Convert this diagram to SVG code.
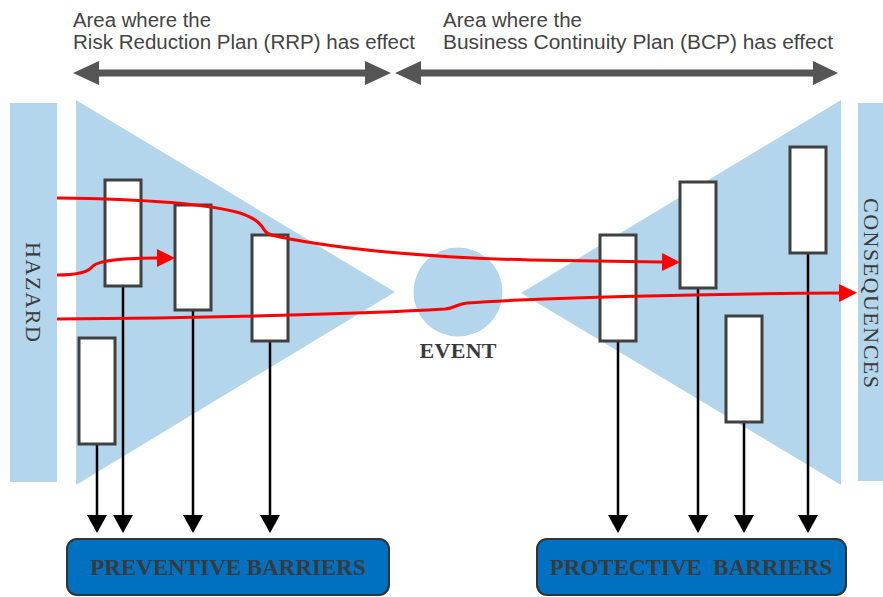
<svg xmlns="http://www.w3.org/2000/svg" width="883" height="597" viewBox="0 0 883 597">
  <style>
    .zone { fill: #B4D6EC; }
    .barrier { fill: #FFFFFF; stroke: #404040; stroke-width: 3; }
    .drop { stroke: #000000; stroke-width: 2.5; fill: none; marker-end: url(#blackHead); }
    .path { stroke: #FF0000; stroke-width: 3; fill: none; }
    .range { fill: #555555; }
    .head { font-family: "Liberation Sans", Arial, sans-serif; font-size: 19.5px; fill: #444444; }
    .side { font-family: "Liberation Serif", "Times New Roman", serif; font-size: 22px; fill: #3a3a3a; }
    .bold { font-family: "Liberation Serif", "Times New Roman", serif; font-weight: bold; fill: #3a3a3a; }
    .group { fill: #0070C0; stroke: #333333; stroke-width: 2; }
  </style>
  <defs>
    <marker id="blackHead" markerUnits="userSpaceOnUse" markerWidth="18" markerHeight="20" refX="0" refY="10" orient="auto" viewBox="0 0 18 20">
      <path d="M0,0 L18,10 L0,20 Z" fill="#000000"/>
    </marker>
    <marker id="redHead" markerUnits="userSpaceOnUse" markerWidth="18" markerHeight="18" refX="0" refY="9" orient="auto" viewBox="0 0 18 18">
      <path d="M0,0 L18,9 L0,18 Z" fill="#FF0000"/>
    </marker>
  </defs>

  <!-- range headings -->
  <g id="rrp-range">
    <text class="head" x="73" y="27" textLength="138" lengthAdjust="spacingAndGlyphs">Area where the</text>
    <text class="head" x="73" y="49" textLength="342" lengthAdjust="spacingAndGlyphs">Risk Reduction Plan (RRP) has effect</text>
    <polygon class="range" points="73,73 99,61 99,69.5 365,69.5 365,61 391,73 365,85 365,76.5 99,76.5 99,85"/>
  </g>
  <g id="bcp-range">
    <text class="head" x="443" y="27" textLength="139" lengthAdjust="spacingAndGlyphs">Area where the</text>
    <text class="head" x="443" y="49" textLength="390" lengthAdjust="spacingAndGlyphs">Business Continuity Plan (BCP) has effect</text>
    <polygon class="range" points="395,73 421,61 421,69.5 813,69.5 813,61 838,73 813,85 813,76.5 421,76.5 421,85"/>
  </g>

  <!-- side bars and fans -->
  <g id="hazard">
    <rect class="zone" x="10" y="103" width="47" height="379"/>
    <text class="side" transform="translate(26,242) rotate(90)" x="0" y="0" textLength="100">HAZARD</text>
  </g>
  <g id="consequences">
    <rect class="zone" x="858" y="103" width="30" height="378"/>
    <text class="side" transform="translate(864,198) rotate(90)" x="0" y="0" font-size="20" textLength="190">CONSEQUENCES</text>
  </g>
  <g id="rrp-fan">
    <polygon class="zone" points="76,100 76,485 395,292"/>
  </g>
  <g id="bcp-fan">
    <polygon class="zone" points="841,100 841,485 521,293"/>
  </g>
  <g id="event">
    <circle class="zone" cx="458" cy="292" r="44.5"/>
    <text class="bold" x="458" y="358" font-size="22" text-anchor="middle" textLength="77">EVENT</text>
  </g>

  <!-- connectors: barrier drop lines -->
  <g id="connectors">
    <line class="drop" x1="97" y1="444" x2="97" y2="515"/>
    <line class="drop" x1="123" y1="286" x2="123" y2="515"/>
    <line class="drop" x1="193" y1="310" x2="193" y2="515"/>
    <line class="drop" x1="270" y1="341" x2="270" y2="515"/>
    <line class="drop" x1="618" y1="341" x2="618" y2="515"/>
    <line class="drop" x1="698" y1="288" x2="698" y2="515"/>
    <line class="drop" x1="744" y1="422" x2="744" y2="515"/>
    <line class="drop" x1="808" y1="253" x2="808" y2="515"/>
  </g>

  <!-- barriers -->
  <g id="barrier-p1"><rect class="barrier" x="105" y="180" width="36" height="106"/></g>
  <g id="barrier-p2"><rect class="barrier" x="175" y="205" width="36" height="105"/></g>
  <g id="barrier-p3"><rect class="barrier" x="252" y="235" width="36" height="106"/></g>
  <g id="barrier-p4"><rect class="barrier" x="79" y="338" width="36" height="106"/></g>
  <g id="barrier-c1"><rect class="barrier" x="600" y="235" width="36" height="106"/></g>
  <g id="barrier-c2"><rect class="barrier" x="680" y="182" width="36" height="106"/></g>
  <g id="barrier-c3"><rect class="barrier" x="726" y="316" width="36" height="106"/></g>
  <g id="barrier-c4"><rect class="barrier" x="790" y="147" width="36" height="106"/></g>

  <!-- threat paths -->
  <g id="threat-paths">
    <path class="path" marker-end="url(#redHead)" d="M57,198 C140,199 205,203 240,213 C258,219 262,226 265,231 C268,235 275,236 290,239 C360,252 450,258 530,260 L662,262"/>
    <path class="path" marker-end="url(#redHead)" d="M57,275 C75,275 88,272 92,267 C96,262 110,260 125,259 C140,258 150,258 157,258"/>
    <path class="path" marker-end="url(#redHead)" d="M57,319 C200,318 360,314 445,309 C455,308 457,304 467,303 C530,298 700,294 839,293"/>
  </g>

  <!-- barrier groups -->
  <g id="preventive">
    <rect class="group" x="67" y="539" width="322" height="56" rx="10"/>
    <text class="bold" x="228" y="575" font-size="23" text-anchor="middle">PREVENTIVE BARRIERS</text>
  </g>
  <g id="protective">
    <rect class="group" x="537" y="539" width="309" height="56" rx="10"/>
    <text class="bold" x="691" y="575" font-size="23" text-anchor="middle" xml:space="preserve">PROTECTIVE  BARRIERS</text>
  </g>
</svg>
